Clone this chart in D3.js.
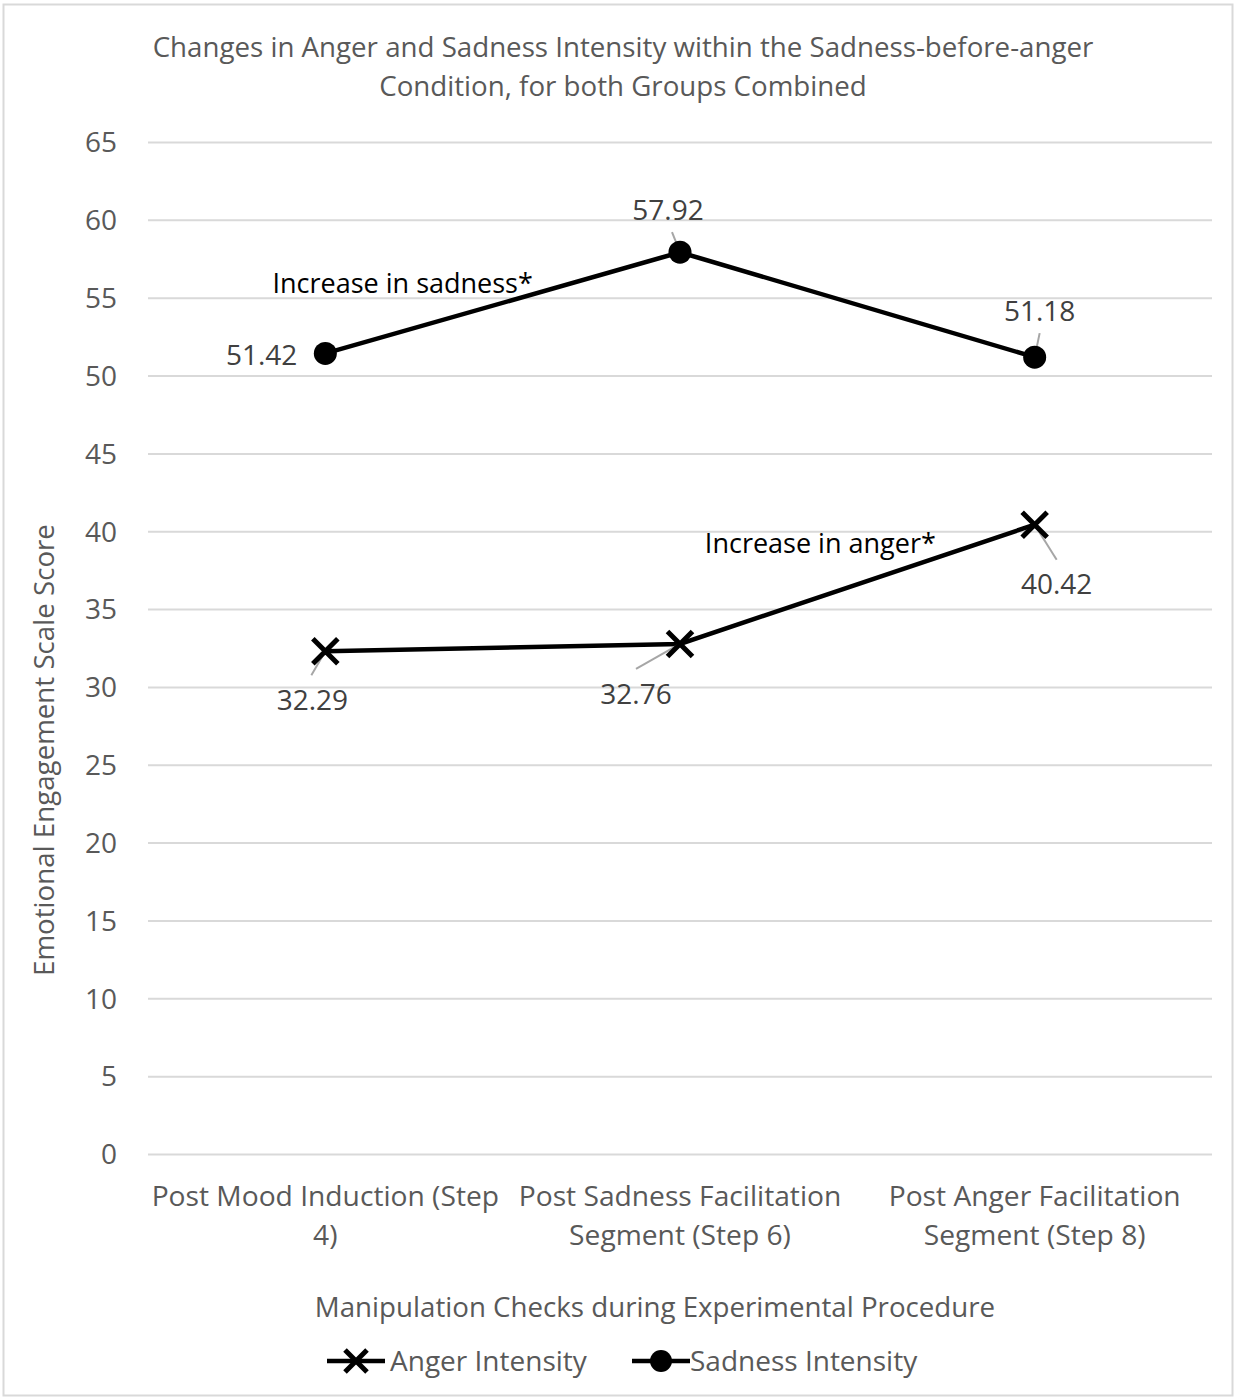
<!DOCTYPE html>
<html><head><meta charset="utf-8">
<script src="https://cdn.jsdelivr.net/npm/d3@7"></script>
<style>body{margin:0;background:#fff;} svg{display:block;} text{font-family:"Open Sans", sans-serif;}</style>
</head><body><svg id="c" width="1237" height="1399"></svg>
<script>
const categories = [["Post Mood Induction (Step","4)"],["Post Sadness Facilitation","Segment (Step 6)"],["Post Anger Facilitation","Segment (Step 8)"]];
const angerValues = [32.29, 32.76, 40.42];
const sadnessValues = [51.42, 57.92, 51.18];
const yTicks = [0,5,10,15,20,25,30,35,40,45,50,55,60,65];
const titleLines = ["Changes in Anger and Sadness Intensity within the Sadness-before-anger","Condition, for both Groups Combined"];
const yTitle = "Emotional Engagement Scale Score";
const xTitle = "Manipulation Checks during Experimental Procedure";
const seriesNames = ["Anger Intensity","Sadness Intensity"];
const annotations = [{text:"Increase in sadness*", cat:0.5, val:55.9, dx:-100}, {text:"Increase in anger*", cat:1.5, val:39.2, dx:-37}];

const svg = d3.select("#c");
svg.append("rect").attr("x",3.5).attr("y",4.5).attr("width",1229).attr("height",1391).attr("fill","#fff").attr("stroke","#d9d9d9").attr("stroke-width",2);

const L=148,R=1212,T=142,B=1154;
const x = d3.scaleBand().domain([0,1,2]).range([L,R]);
const cx = i => x(i)+x.bandwidth()/2;
const xc = d3.scaleLinear().domain([0,2]).range([cx(0),cx(2)]);
const y = d3.scaleLinear().domain([0,65]).range([B,T]);

// gridlines + y axis
const ya = svg.append("g").attr("transform",`translate(${L},0)`).call(d3.axisLeft(y).tickValues(yTicks).tickSize(-(R-L)).tickPadding(31));
ya.select(".domain").remove();
ya.selectAll(".tick line").attr("stroke","#d9d9d9").attr("stroke-width",2);
ya.selectAll(".tick text").attr("fill","#595959").style("font-size","28px").style("font-family","Open Sans").attr("dy","0.35em");

// x axis labels
categories.forEach((lines,i)=>{
  lines.forEach((ln,j)=>{
    svg.append("text").attr("x",cx(i)).attr("y",1206+j*39).attr("text-anchor","middle").attr("fill","#595959").style("font-size","28.2px").text(ln);
  });
});

// titles
titleLines.forEach((t,j)=>svg.append("text").attr("x",623).attr("y",57+j*39).attr("text-anchor","middle").attr("fill","#595959").style("font-size","27.7px").text(t));
svg.append("text").attr("transform",`translate(54,${750}) rotate(-90)`).attr("text-anchor","middle").attr("fill","#595959").style("font-size","27.7px").text(yTitle);
svg.append("text").attr("x",655).attr("y",1317).attr("text-anchor","middle").attr("fill","#595959").style("font-size","27.7px").text(xTitle);

// lines
const line = d3.line().x((d,i)=>cx(i)).y(d=>y(d));
[angerValues, sadnessValues].forEach(v=>svg.append("path").datum(v).attr("d",line).attr("fill","none").attr("stroke","#000").attr("stroke-width",4.5));

// label offsets in px
const angerLab = [{dx:-13,dy:49,lx:-14,ly:24},{dx:-44,dy:50,lx:-44,ly:25},{dx:22,dy:60,lx:22,ly:35}];
const sadLab = [{dx:-28,dy:2,anchor:"end"},{dx:-12,dy:-42,lx:-8,ly:-20},{dx:5,dy:-46,lx:5,ly:-24}];
function leader(i,v,o){ if(o.lx===undefined) return; svg.append("line").attr("x1",cx(i)).attr("y1",y(v)).attr("x2",cx(i)+o.lx).attr("y2",y(v)+o.ly).attr("stroke","#a6a6a6").attr("stroke-width",2);}
angerValues.forEach((v,i)=>leader(i,v,angerLab[i]));
sadnessValues.forEach((v,i)=>leader(i,v,sadLab[i]));

// markers
function xMark(g,px,py,s){ g.append("path").attr("d",`M${px-s},${py-s}L${px+s},${py+s}M${px-s},${py+s}L${px+s},${py-s}`).attr("stroke","#000").attr("stroke-width",5).attr("fill","none"); }
angerValues.forEach((v,i)=>xMark(svg,cx(i),y(v),12.5));
sadnessValues.forEach((v,i)=>svg.append("circle").attr("cx",cx(i)).attr("cy",y(v)).attr("r",11.5).attr("fill","#000"));

// data labels
function lab(i,v,o){ svg.append("text").attr("x",cx(i)+o.dx).attr("y",y(v)+o.dy).attr("dy","0.35em").attr("text-anchor",o.anchor||"middle").attr("fill","#404040").style("font-size","28px").text(v.toFixed(2)); }
angerValues.forEach((v,i)=>lab(i,v,angerLab[i]));
sadnessValues.forEach((v,i)=>lab(i,v,sadLab[i]));

// annotations
annotations.forEach(a=>svg.append("text").attr("x",xc(a.cat)+a.dx).attr("y",y(a.val)).attr("dy","0.35em").attr("text-anchor","middle").attr("fill","#000").style("font-size","27px").text(a.text));

// legend
const lg = svg.append("g");
const legY = 1361;
const items = [{x0:327,tx:390,type:"x"},{x0:632,tx:690,type:"o"}];
items.forEach((it,k)=>{
  lg.append("line").attr("x1",it.x0).attr("x2",it.x0+58).attr("y1",legY).attr("y2",legY).attr("stroke","#000").attr("stroke-width",4.5);
  if(it.type==="x") xMark(lg,it.x0+29,legY,11); else lg.append("circle").attr("cx",it.x0+29).attr("cy",legY).attr("r",11).attr("fill","#000");
  lg.append("text").attr("x",it.tx).attr("y",legY).attr("dy","0.35em").attr("fill","#595959").style("font-size","28px").text(seriesNames[k]);
});
</script></body></html>
